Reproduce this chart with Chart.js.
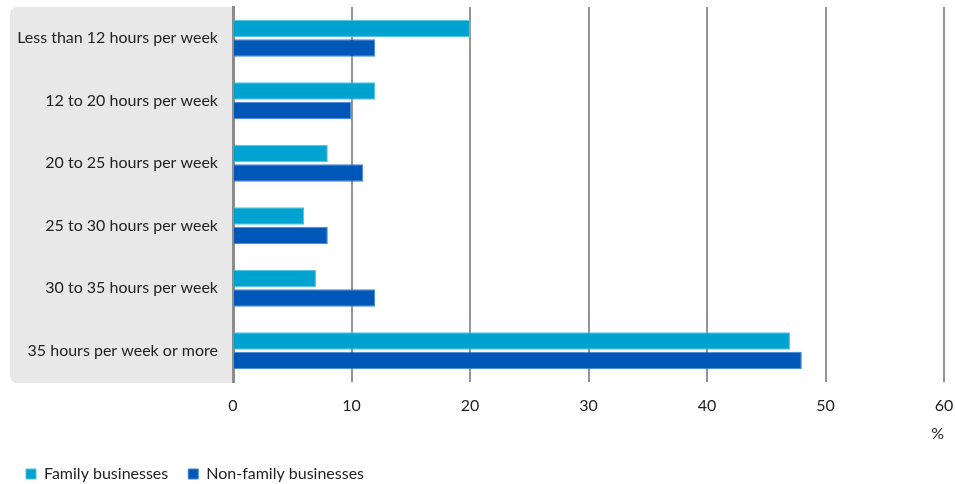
<!DOCTYPE html>
<html>
<head>
<meta charset="utf-8">
<script src="https://cdn.jsdelivr.net/npm/chart.js@4"></script>
<style>
  html, body { margin: 0; padding: 0; background: #fff; }
  #wrap { width: 955px; height: 484px; position: relative; }
</style>
</head>
<body>
<div id="wrap"><canvas id="mychart"></canvas></div>
<script>
var categories = ["Less than 12 hours per week", "12 to 20 hours per week", "20 to 25 hours per week",
                  "25 to 30 hours per week", "30 to 35 hours per week", "35 hours per week or more"]
var family = [20, 12, 8, 6, 7, 47]
var nonFamily = [12, 10, 11, 8, 12, 48]
var xTicks = [0, 10, 20, 30, 40, 50, 60]
var seriesNames = ["Family businesses", "Non-family businesses"]

Chart.defaults.font.family = "Lato, 'Open Sans', sans-serif"
Chart.defaults.font.size = 16
Chart.defaults.color = "#222"

// gray panel behind the category labels
var labelPanel = {
    id: "labelPanel",
    beforeDraw: function(chart) {
        var ctx = chart.ctx, a = chart.chartArea
        ctx.save()
        ctx.fillStyle = "#e8e8e8"
        ctx.beginPath()
        ctx.roundRect(10, a.top, a.left - 10, a.bottom - a.top + 1, [7, 0, 0, 7])
        ctx.fill()
        ctx.restore()
    }
}

var mychart = document.getElementById("mychart").getContext("2d")
var chart = new Chart(mychart, {
    type: "bar",
    data: {
        labels: categories,
        datasets: [{
            label: seriesNames[0],
            data: family,
            backgroundColor: "#00a3cf",
            borderColor: "#4fc3e3",
            borderWidth: 1,
            categoryPercentage: 0.62,
            barPercentage: 0.9
        },
        {
            label: seriesNames[1],
            data: nonFamily,
            backgroundColor: "#0057b8",
            borderColor: "#3f86d2",
            borderWidth: 1,
            categoryPercentage: 0.62,
            barPercentage: 0.9
        }]
    },
    options: {
        indexAxis: "y",
        responsive: true,
        maintainAspectRatio: false,
        animation: false,
        layout: { padding: { left: 6, right: 11, top: 7, bottom: -8 } },
        scales: {
            x: {
                min: 0,
                max: 60,
                afterBuildTicks: function(scale) {
                    scale.ticks = xTicks.map(function(v) { return { value: v } })
                },
                grid: { color: "#959595", lineWidth: 2, drawTicks: false },
                border: { display: false },
                ticks: { padding: 14 },
                title: { display: true, text: "%", align: "end", padding: { top: 2, bottom: 3 } },
                afterFit: function(scale) {
                    scale.height = 64
                    scale.paddingLeft = 0
                    scale.paddingRight = 0
                }
            },
            y: {
                grid: { display: false },
                border: { color: "#8c8c8c", width: 3 },
                ticks: { padding: 7 },
                afterFit: function(scale) {
                    scale.width = 227
                    scale.paddingTop = 0
                    scale.paddingBottom = 0
                }
            }
        },
        plugins: {
            legend: {
                position: "bottom",
                align: "start",
                labels: { boxWidth: 10, boxHeight: 10, padding: 20 }
            },
            tooltip: { enabled: false }
        }
    },
    plugins: [labelPanel]
})
</script>
</body>
</html>
